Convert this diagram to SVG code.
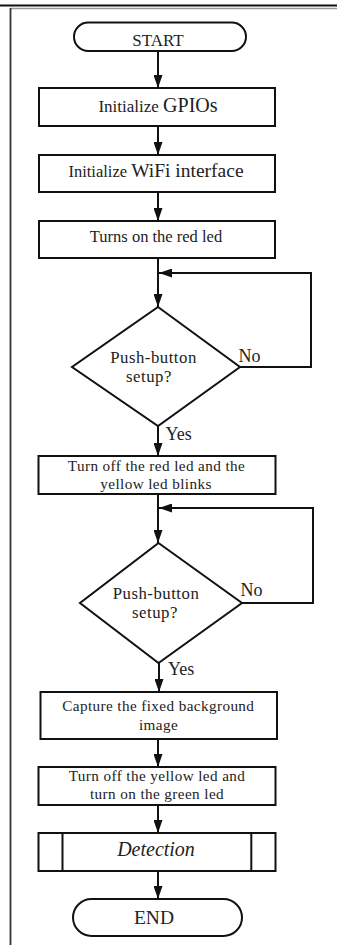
<svg xmlns="http://www.w3.org/2000/svg" width="337" height="947" viewBox="0 0 337 947">
<defs>
<style>
.shape{fill:#fff;stroke:#111;stroke-width:2}
.line{fill:none;stroke:#111;stroke-width:2}
text{font-family:"Liberation Serif","Times New Roman",serif;fill:#222;text-anchor:middle}
.t{font-size:16.5px}
.t2{font-size:15.2px;letter-spacing:0.4px}
.d{font-size:16.8px;letter-spacing:0.5px}
.lbl{font-size:18px;text-anchor:start}
</style>
<marker id="ah" markerWidth="13" markerHeight="9" refX="13" refY="4.5" orient="auto" markerUnits="userSpaceOnUse">
<path d="M0,0 L13,4.5 L0,9 Z" fill="#111"/>
</marker>
</defs>
<rect width="337" height="947" fill="#fff"/>
<g id="frame">
<line x1="0" y1="5.5" x2="337" y2="5.5" stroke="#111" stroke-width="2"/>
<line x1="10" y1="8.5" x2="337" y2="8.5" stroke="#999" stroke-width="1.5"/>
<line x1="10.5" y1="8" x2="10.5" y2="945" stroke="#333" stroke-width="1.8"/>
</g>
<g id="connectors">
<line class="line" x1="158" y1="51" x2="158" y2="88" marker-end="url(#ah)"/>
<line class="line" x1="158" y1="126" x2="158" y2="155" marker-end="url(#ah)"/>
<line class="line" x1="158" y1="192" x2="158" y2="221" marker-end="url(#ah)"/>
<line class="line" x1="158" y1="258" x2="158" y2="307" marker-end="url(#ah)"/>
<polyline class="line" points="240,367 311,367 311,273 159,273" marker-end="url(#ah)"/>
<line class="line" x1="158" y1="426" x2="158" y2="456" marker-end="url(#ah)"/>
<line class="line" x1="158" y1="494" x2="158" y2="543" marker-end="url(#ah)"/>
<polyline class="line" points="242,603 313,603 313,508 159,508" marker-end="url(#ah)"/>
<line class="line" x1="159" y1="663" x2="159" y2="692" marker-end="url(#ah)"/>
<line class="line" x1="158" y1="739" x2="158" y2="767" marker-end="url(#ah)"/>
<line class="line" x1="158" y1="805" x2="158" y2="833" marker-end="url(#ah)"/>
<line class="line" x1="158" y1="871" x2="158" y2="899" marker-end="url(#ah)"/>
</g>
<g id="start">
<rect class="shape" x="74" y="22.5" width="172" height="28.5" rx="14.25"/>
<text x="158" y="45.5" style="font-size:17px">START</text>
</g>
<g id="init-gpio">
<rect class="shape" x="39" y="88" width="236" height="38"/>
<text x="158" y="112"><tspan style="font-size:17px">Initialize </tspan><tspan style="font-size:20px">GPIOs</tspan></text>
</g>
<g id="init-wifi">
<rect class="shape" x="39" y="155" width="236" height="37"/>
<text x="156" y="177"><tspan style="font-size:16.5px">Initialize </tspan><tspan style="font-size:19.5px">WiFi interface</tspan></text>
</g>
<g id="red-on">
<rect class="shape" x="39" y="221" width="236" height="37"/>
<text class="t" x="156" y="242">Turns on the red led</text>
</g>
<g id="decision1">
<polygon class="shape" points="158,307 240,367 158,426 72,367"/>
<text class="d" x="153.5" y="362.5">Push-button</text>
<text class="d" x="149" y="381.5">setup?</text>
<text class="lbl" x="238.5" y="361.5">No</text>
<text class="lbl" x="165.5" y="440">Yes</text>
</g>
<g id="yellow-blink">
<rect class="shape" x="38.5" y="456" width="237" height="38"/>
<text class="t2" x="156.5" y="471">Turn off the red led and the</text>
<text class="t2" x="156" y="488.5">yellow led blinks</text>
</g>
<g id="decision2">
<polygon class="shape" points="158.5,543 242,603 158.5,663 80,603"/>
<text class="d" x="156" y="598.5">Push-button</text>
<text class="d" x="155" y="617.5">setup?</text>
<text class="lbl" x="240.5" y="596">No</text>
<text class="lbl" x="168" y="675">Yes</text>
</g>
<g id="capture">
<rect class="shape" x="40.5" y="692" width="236.5" height="47"/>
<text class="t2" x="158.3" y="711">Capture the fixed background</text>
<text class="t2" x="158.5" y="730">image</text>
</g>
<g id="green-on">
<rect class="shape" x="38.5" y="767" width="237" height="38"/>
<text class="t2" x="157" y="781">Turn off the yellow led and</text>
<text class="t2" x="157" y="798.5">turn on the green led</text>
</g>
<g id="detection">
<rect class="shape" x="38.5" y="833" width="237" height="38"/>
<line class="line" x1="62.5" y1="833" x2="62.5" y2="871"/>
<line class="line" x1="251.3" y1="833" x2="251.3" y2="871"/>
<text x="156" y="855.5" style="font-size:20px;font-style:italic">Detection</text>
</g>
<g id="end">
<rect class="shape" x="73" y="899" width="169" height="37" rx="18.5"/>
<text x="154" y="924" style="font-size:19.5px">END</text>
</g>
</svg>
